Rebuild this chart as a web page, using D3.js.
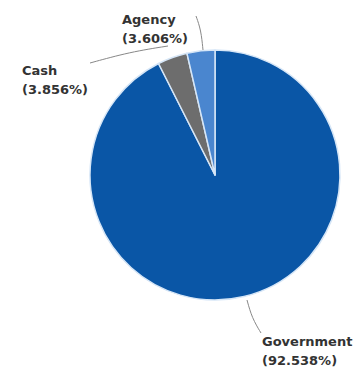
<!DOCTYPE html>
<html>
<head>
<meta charset="utf-8">
<script src="https://cdn.jsdelivr.net/npm/d3@7"></script>
<style>
  html, body { margin: 0; padding: 0; background: #fff; }
  svg { display: block; }
  text { font-family: "DejaVu Sans", sans-serif; font-weight: bold; font-size: 13px; fill: #333; }
</style>
</head>
<body>
<svg id="chart" width="359" height="370"></svg>
<script>
// Portfolio composition by holding type
const categories = ["Government", "Cash", "Agency"];
const shares = [92.538, 3.856, 3.606];
const sliceColors = ["#0a56a6", "#6d6d6d", "#4a86cf"];

const width = 359, height = 370;
const cx = 215, cy = 175, radius = 125;

const svg = d3.select("#chart");
const g = svg.append("g").attr("transform", `translate(${cx},${cy})`);

const data = categories.map((c, i) => ({ name: c, value: shares[i], color: sliceColors[i] }));

const pie = d3.pie().sort(null).value(d => d.value);
const arc = d3.arc().innerRadius(0).outerRadius(radius);
const arcs = pie(data);

g.selectAll("path.slice")
  .data(arcs)
  .join("path")
  .attr("class", "slice")
  .attr("d", arc)
  .attr("fill", d => d.data.color)
  .attr("stroke", "#d6e6f7")
  .attr("stroke-width", 1.5)
  .attr("stroke-linejoin", "round");

// Label placement (label anchor point + leader line end) in page coordinates
const labelLayout = {
  Government: { x: 262, y: 346, lead: [[247, 300], [252, 318], [261, 333]] },
  Cash:       { x: 22,  y: 75,  lead: [[90, 63], [130, 52], [168, 46]] },
  Agency:     { x: 122, y: 24,  lead: [[196, 16], [201, 30], [203, 50]] }
};

const line = d3.line().curve(d3.curveBasis);

arcs.forEach(a => {
  const L = labelLayout[a.data.name];
  svg.append("path")
    .attr("d", line(L.lead))
    .attr("fill", "none")
    .attr("stroke", "#888")
    .attr("stroke-width", 1);
  const t = svg.append("text").attr("x", L.x).attr("y", L.y);
  t.append("tspan").attr("x", L.x).text(a.data.name);
  t.append("tspan").attr("x", L.x).attr("dy", 19).text(`(${d3.format(".3f")(a.data.value)}%)`);
});
</script>
</body>
</html>
